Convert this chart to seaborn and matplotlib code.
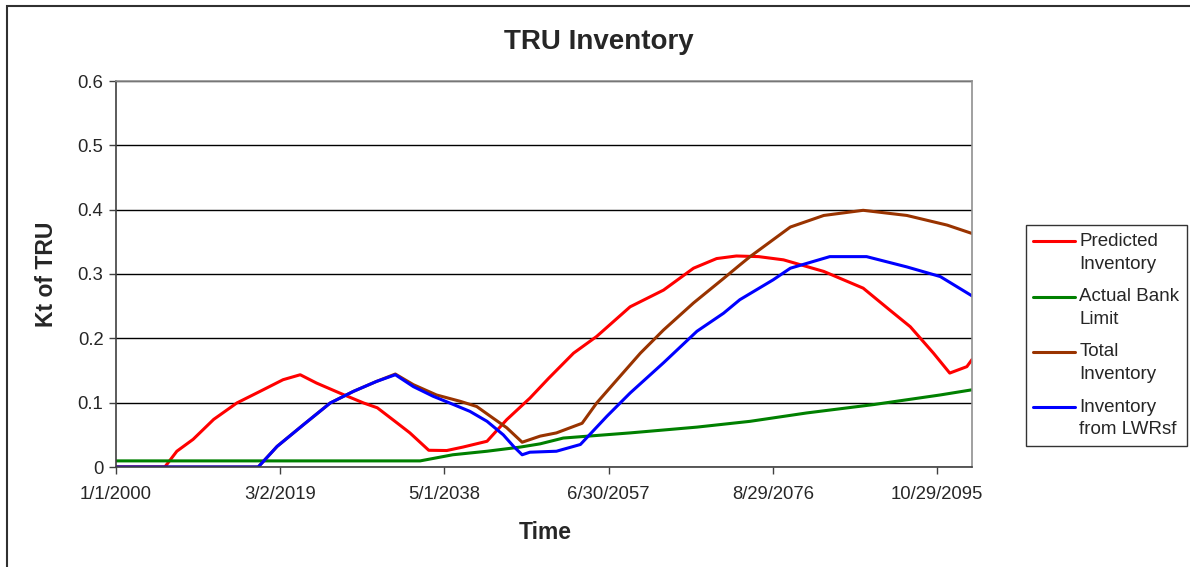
import numpy as np
import pandas as pd
import matplotlib
matplotlib.use('Agg')
import matplotlib.pyplot as plt
from matplotlib.patches import Rectangle
import seaborn as sns

# anni trascorsi dal 1/1/2000 e valori (Kt)
anni_predicted = [0, 5.7, 7.1, 9.0, 11.4, 14.1, 16.8, 19.5, 21.5, 23.4, 26.1, 28.9, 30.5, 32.8, 34.3,
                  36.5, 38.6, 40.5, 43.3, 45.6, 48.3, 50.5, 53.4, 56.1, 60.0, 63.9, 67.4, 70.1, 72.4,
                  75.0, 77.9, 82.6, 87.2, 90.3, 92.7, 95.4, 97.3, 99.3, 99.9]
val_predicted = [0, 0, 0.0245, 0.043, 0.074, 0.0995, 0.1175, 0.1357, 0.1434, 0.1305, 0.115, 0.0995, 0.092,
                 0.0685, 0.053, 0.026, 0.0256, 0.031, 0.040, 0.0736, 0.107, 0.138, 0.177, 0.203, 0.249,
                 0.275, 0.309, 0.324, 0.328, 0.327, 0.322, 0.304, 0.278, 0.244, 0.218, 0.177, 0.146,
                 0.156, 0.167]

anni_bank = [0, 35.5, 39.3, 43.3, 47.2, 49.5, 52.2, 60.0, 67.8, 74.0, 80.6, 88.4, 96.2, 99.9]
val_bank = [0.0095, 0.0095, 0.019, 0.0245, 0.031, 0.036, 0.045, 0.053, 0.062, 0.071, 0.084, 0.097,
            0.112, 0.120]

anni_total = [0, 16.6, 18.8, 21.9, 25.0, 27.7, 30.4, 32.6, 34.7, 37.4, 40.2, 42.1, 44.0, 45.6, 47.4,
              49.5, 51.4, 54.4, 56.1, 58.1, 61.2, 63.9, 67.4, 70.9, 72.8, 74.0, 78.7, 82.6, 87.2,
              92.3, 97.0, 99.9]
val_total = [0, 0, 0.032, 0.066, 0.0995, 0.1175, 0.133, 0.1445, 0.128, 0.112, 0.102, 0.094, 0.076,
             0.061, 0.0385, 0.048, 0.053, 0.068, 0.0995, 0.13, 0.177, 0.213, 0.255, 0.293, 0.314,
             0.327, 0.373, 0.391, 0.399, 0.391, 0.376, 0.363]

anni_lwr = [0, 16.6, 18.8, 21.9, 25.0, 27.7, 30.4, 32.6, 34.7, 37.0, 39.4, 41.3, 43.3, 45.2, 46.4,
            47.4, 48.3, 51.4, 54.2, 57.3, 60.0, 63.9, 67.8, 70.9, 72.8, 76.7, 78.7, 83.3, 87.6,
            92.3, 96.2, 99.9]
val_lwr = [0, 0, 0.032, 0.066, 0.0995, 0.1175, 0.133, 0.1434, 0.125, 0.11, 0.097, 0.0865, 0.071,
           0.050, 0.032, 0.019, 0.023, 0.0245, 0.035, 0.079, 0.115, 0.162, 0.211, 0.239, 0.26,
           0.291, 0.309, 0.327, 0.327, 0.311, 0.296, 0.266]

serie = ['Predicted Inventory', 'Actual Bank Limit', 'Total Inventory', 'Inventory from LWRsf']
etichette_legenda = ['Predicted\nInventory', 'Actual Bank\nLimit', 'Total\nInventory', 'Inventory\nfrom LWRsf']
colori = ['#FF0000', '#008000', '#993300', '#0000FF']
tick_date = pd.date_range('2000-01-01', periods=6, freq='7000D')

# costruzione dataframe in formato lungo
inizio = pd.Timestamp('2000-01-01')
blocchi = []
for nome, anni, valori in zip(serie, [anni_predicted, anni_bank, anni_total, anni_lwr],
                              [val_predicted, val_bank, val_total, val_lwr]):
    date = inizio + pd.to_timedelta(np.array(anni) * 365.25, unit='D')
    blocchi.append(pd.DataFrame({'data': date, 'valore': valori, 'serie': nome}))
df = pd.concat(blocchi, ignore_index=True)

sns.set_style('white')
plt.rcParams['font.family'] = ['Liberation Sans', 'DejaVu Sans']

fig = plt.figure(figsize=(11.9, 5.67), dpi=100)
ax = fig.add_axes([116 / 1190, 100 / 567, 856 / 1190, 386 / 567])

sns.lineplot(data=df, x='data', y='valore', hue='serie', hue_order=serie,
             palette=colori, linewidth=2.2, legend=False, ax=ax, sort=False)

ax.set_ylim(0, 0.6)
ax.set_yticks(np.arange(0, 0.61, 0.1))
ax.set_yticklabels(['0', '0.1', '0.2', '0.3', '0.4', '0.5', '0.6'])
ax.set_xlim(inizio, df['data'].max())
ax.set_xticks(tick_date)
ax.set_xticklabels([f'{d.month}/{d.day}/{d.year}' for d in tick_date])
ax.yaxis.grid(True, color='black', linewidth=1)
ax.set_axisbelow(True)
ax.tick_params(axis='both', direction='out', length=5, width=1, color='#404040',
               labelsize=13.3, left=True, bottom=True)
ax.tick_params(axis='y', pad=4)
ax.tick_params(axis='x', pad=9)
for lato in ['left', 'bottom']:
    ax.spines[lato].set_color('#404040')
    ax.spines[lato].set_linewidth(1.2)
for lato in ['top', 'right']:
    ax.spines[lato].set_color('#909090')
    ax.spines[lato].set_linewidth(1.2)
ax.set_xlabel('')
ax.set_ylabel('')

fig.text(0.503, 0.926, 'TRU Inventory', ha='center', va='center', fontsize=20, fontweight='bold')
fig.text(0.458, 0.060, 'Time', ha='center', va='center', fontsize=16.5, fontweight='bold')
fig.text(0.039, 0.517, 'Kt of TRU', ha='center', va='center', rotation=90, fontsize=16.5,
         fontweight='bold')

# legenda
fs_leg = 13.5
leg = ax.legend(ax.get_lines(), etichette_legenda, loc='upper left',
                bbox_to_anchor=(1025.5 / 1190, 1 - 225 / 567), bbox_transform=fig.transFigure,
                borderaxespad=0, fontsize=fs_leg, frameon=True, fancybox=False, edgecolor='black',
                handlelength=2.2, handletextpad=0.25, labelspacing=0.82, borderpad=0.42)
leg.get_frame().set_linewidth(1)
for testo in leg.get_texts():
    testo.set_linespacing(1.45)
# linee della legenda allineate alla prima riga del testo
for linea in leg.get_lines():
    linea.set_ydata(np.asarray(linea.get_ydata()) + 0.6 * fs_leg)

# cornice del grafico
fig.patches.append(Rectangle((7 / 1190, -0.1), 1.2, 1.1 - 6 / 567, transform=fig.transFigure,
                             fill=False, edgecolor='#303030', linewidth=1.5))

fig.savefig('out.png', dpi=100, facecolor='white')
